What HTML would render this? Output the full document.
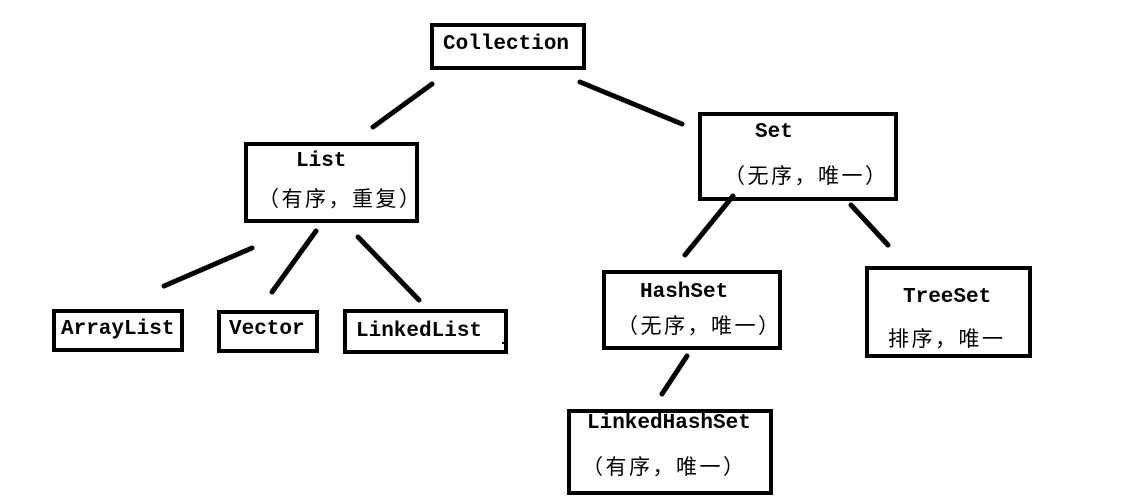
<!DOCTYPE html>
<html><head><meta charset="utf-8"><style>
body{margin:0;width:1132px;height:502px;background:#fff;position:relative;overflow:hidden}
.b{position:absolute;border:4px solid #000;box-sizing:border-box}
.t{position:absolute;font-family:"Liberation Mono",monospace;font-weight:bold;font-size:21px;line-height:20px;color:#000;white-space:nowrap}
.c{position:absolute;font-family:"Noto Sans CJK SC","Liberation Sans",sans-serif;font-size:21px;letter-spacing:2.5px;line-height:22px;color:#000;white-space:nowrap}
svg{position:absolute;left:0;top:0}
</style></head><body>
<svg width="1132" height="502"><g stroke="#000" stroke-width="5" stroke-linecap="round">
<line x1="432" y1="84" x2="373" y2="127"/>
<line x1="580" y1="82" x2="682" y2="124"/>
<line x1="252" y1="248" x2="164" y2="286"/>
<line x1="316" y1="231" x2="272" y2="292"/>
<line x1="358" y1="237" x2="419" y2="300"/>
<line x1="733" y1="196" x2="685" y2="255"/>
<line x1="851" y1="205" x2="888" y2="245"/>
<line x1="687" y1="356" x2="662" y2="394"/>
</g><rect x="502" y="342" width="2" height="2" fill="#000"/></svg>
<div class="b" style="left:430px;top:23px;width:156px;height:47px"></div>
<div class="t" style="left:443px;top:35px">Collection</div>
<div class="b" style="left:244px;top:142px;width:175px;height:81px"></div>
<div class="t" style="left:296px;top:152px">List</div>
<div class="c" style="left:258px;top:187px">（有序，重复）</div>
<div class="b" style="left:52px;top:309px;width:132px;height:43px"></div>
<div class="t" style="left:61px;top:320px">ArrayList</div>
<div class="b" style="left:217px;top:310px;width:102px;height:43px"></div>
<div class="t" style="left:229px;top:320px">Vector</div>
<div class="b" style="left:343px;top:309px;width:165px;height:45px"></div>
<div class="t" style="left:356px;top:322px">LinkedList</div>
<div class="b" style="left:698px;top:112px;width:200px;height:89px"></div>
<div class="t" style="left:755px;top:123px">Set</div>
<div class="c" style="left:724px;top:164px">（无序，唯一）</div>
<div class="b" style="left:602px;top:270px;width:180px;height:80px"></div>
<div class="t" style="left:640px;top:283px">HashSet</div>
<div class="c" style="left:617px;top:314px">（无序，唯一）</div>
<div class="b" style="left:865px;top:266px;width:167px;height:92px"></div>
<div class="t" style="left:903px;top:288px">TreeSet</div>
<div class="c" style="left:888px;top:327px">排序，唯一</div>
<div class="b" style="left:567px;top:409px;width:206px;height:86px"></div>
<div class="t" style="left:587px;top:414px">LinkedHashSet</div>
<div class="c" style="left:582px;top:455px">（有序，唯一）</div>
</body></html>
